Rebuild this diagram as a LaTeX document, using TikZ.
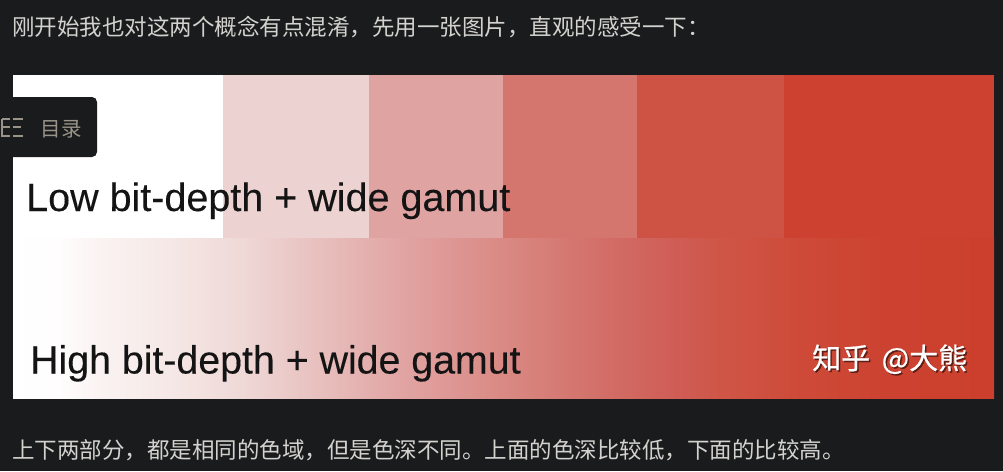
\documentclass[tikz,border=0pt]{standalone}
\usepackage{fontspec}
\setmainfont{Liberation Sans}
\newfontfamily\cjk{Noto Sans CJK SC}
\newfontfamily\cjkmark[FakeBold=0.6]{Noto Sans CJK SC}
\newfontfamily\labelfont[FakeBold=0.25]{Liberation Sans}
\usetikzlibrary{positioning}
\definecolor{pagebg}{HTML}{1A1B1D}
\definecolor{bodytext}{HTML}{D3D2CE}
\definecolor{tocgray}{HTML}{9A9488}
\definecolor{bandb}{HTML}{ECD2D0}
\definecolor{bandc}{HTML}{DFA3A2}
\definecolor{bandd}{HTML}{D4756E}
\definecolor{bande}{HTML}{CF5345}
\definecolor{bandf}{HTML}{CC412F}
\definecolor{rampa}{HTML}{FFFDFD}
\definecolor{rampb}{HTML}{FAF3F2}
\definecolor{rampc}{HTML}{F5E8E6}
\definecolor{rampd}{HTML}{EFD9D7}
\definecolor{rampe}{HTML}{E9C6C4}
\definecolor{rampf}{HTML}{E1A5A4}
\definecolor{rampg}{HTML}{DA8A85}
\definecolor{ramph}{HTML}{D26F68}
\definecolor{rampi}{HTML}{CF5C55}
\definecolor{rampj}{HTML}{CF5647}
\definecolor{rampk}{HTML}{CE4A38}
\definecolor{rampl}{HTML}{CC412F}
\definecolor{rampm}{HTML}{CC3F2D}
\pgfdeclarehorizontalshading{gamutramp}{100bp}{
  color(0bp)=(white); color(25bp)=(white); color(27.4bp)=(rampa);
  color(29.4bp)=(rampb); color(33bp)=(rampc); color(36.6bp)=(rampd);
  color(39.6bp)=(rampe); color(44.7bp)=(rampf); color(49.8bp)=(rampg);
  color(54.9bp)=(ramph); color(59bp)=(rampi); color(61bp)=(rampj);
  color(65.1bp)=(rampk); color(70bp)=(rampl); color(75bp)=(rampm);
  color(100bp)=(rampm)}
\tikzset{
  body line/.style={anchor=base west,inner sep=0pt,text=bodytext,font=\cjk\fontsize{22.5}{27}\selectfont},
  gamut label/.style={anchor=base west,inner sep=0pt,text=black!92,font=\labelfont\fontsize{#1}{46}\selectfont},
  band/.style={fill=#1,draw=none},
  toc icon/.style={draw=tocgray,line width=1.1pt},
  mark text/.style={anchor=base west,inner sep=0pt,text=#1,font=\cjkmark\fontsize{29}{32}\selectfont}
}
\begin{document}
\begin{tikzpicture}[x=1pt,y=-1pt]
  \fill[pagebg] (0,0) rectangle (1003,471);
  \useasboundingbox (0,0) rectangle (1003,471);
  \node[body line] (introline) at (12,35) {刚开始我也对这两个概念有点混淆，先用一张图片，直观的感受一下：};
  \path[band=white] (13,75) rectangle (223,238);
  \path[band=bandb] (223,75) rectangle (369,238);
  \path[band=bandc] (369,75) rectangle (503,238);
  \path[band=bandd] (503,75) rectangle (637,238);
  \path[band=bande] (637,75) rectangle (784,238);
  \path[band=bandf] (784,75) rectangle (994,238);
  \path[shading=gamutramp] (13,238) rectangle (994,398.7);
  \node[gamut label=39.5] (lowlabel) at (26,211) {Low bit-depth + wide gamut};
  \node[gamut label=39.3] (highlabel) at (30,373.5) {High bit-depth + wide gamut};
  \fill[pagebg,rounded corners=5pt] (-8,97) -- (97,97) -- (97,157) -- (-8,157) -- cycle;
  \draw[toc icon] (13,119) -- (23,119) (13,127) -- (21,127) (13,136) -- (23,136);
  \draw[toc icon] (10,119) -- (2,119) (2,127) -- (10,127) (2,119) -- (2,136) -- (10,136);
  \node[anchor=base west,inner sep=0pt,text=tocgray,font=\cjk\fontsize{20.5}{24}\selectfont] (toclabel) at (40.5,136.5) {目录};
  \node[mark text=black!55!bandf] (markshadow) at (813.5,370.5) {知乎\hspace{0.4em}@大熊};
  \node[mark text=white] (marklabel) at (812,369) {知乎\hspace{0.4em}@大熊};
  \node[body line] (outroline) at (12,458) {上下两部分，都是相同的色域，但是色深不同。上面的色深比较低，下面的比较高。};
\end{tikzpicture}
\end{document}
